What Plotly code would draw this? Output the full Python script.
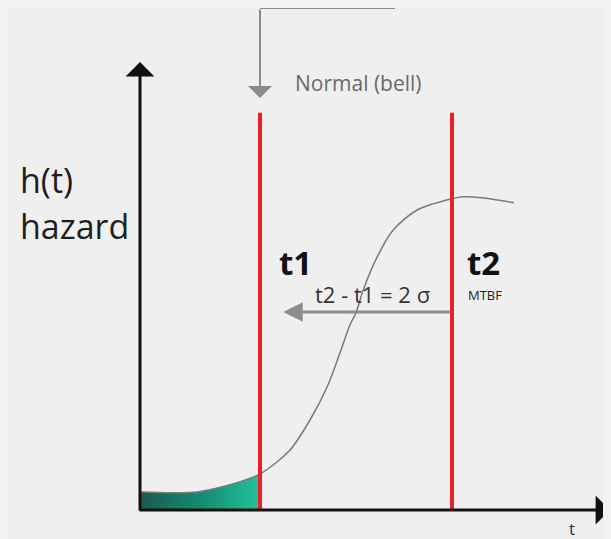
import plotly.graph_objects as go

# hazard curve (t, h)
t_vals = [0.0, 0.08, 0.83, 1.43, 2.25, 3.0, 3.75, 4.25, 4.68, 5.0, 5.25, 5.4, 5.58,
          5.93, 6.33, 6.93, 7.8, 8.08, 8.6, 9.35]
h_vals = [0.45, 0.45, 0.43, 0.45, 0.63, 0.9, 1.5, 2.25, 3.08, 3.93, 4.63, 4.93, 5.5,
          6.33, 7.0, 7.5, 7.78, 7.83, 7.8, 7.68]

t1 = 3.0
t2 = 7.8
marker_labels = ["t1", "t2"]

fig = go.Figure()

# green shaded area under the curve up to t1
fill_t = [t for t in t_vals if t <= t1]
fill_h = [h for t, h in zip(t_vals, h_vals) if t <= t1]
fig.add_trace(go.Scatter(
    x=fill_t, y=fill_h, mode="lines", line=dict(width=0),
    fill="tozeroy",
    fillgradient=dict(type="horizontal",
                      colorscale=[[0, "#1b5a50"], [0.5, "#138a72"], [1, "#22c29c"]]),
    hoverinfo="skip", showlegend=False,
))

# hazard curve
fig.add_trace(go.Scatter(
    x=t_vals, y=h_vals, mode="lines",
    line=dict(color="#7a7a7a", width=1.5, shape="spline", smoothing=0.8),
    showlegend=False,
))

shapes = []
# red vertical lines at t1 and t2
for tv in [t1, t2]:
    shapes.append(dict(type="line", xref="x", yref="y", x0=tv, x1=tv, y0=0, y1=9.93,
                       line=dict(color="#e82028", width=4)))
# top pointer horizontal segment
shapes.append(dict(type="line", xref="x", yref="y", x0=t1, x1=6.375, y0=12.55, y1=12.55,
                   line=dict(color="#8a8a8a", width=2)))

annotations = [
    # y axis arrow
    dict(x=0, y=11.2, ax=0, ay=-0.05, xref="x", yref="y", axref="x", ayref="y",
         text="", showarrow=True, arrowhead=1, arrowsize=1.6, arrowwidth=3, arrowcolor="#111"),
    # x axis arrow
    dict(x=11.75, y=0, ax=-0.05, ay=0, xref="x", yref="y", axref="x", ayref="y",
         text="", showarrow=True, arrowhead=1, arrowsize=1.6, arrowwidth=3, arrowcolor="#111"),
    # top pointer down to t1
    dict(x=t1, y=10.3, ax=t1, ay=12.55, xref="x", yref="y", axref="x", ayref="y",
         text="", showarrow=True, arrowhead=1, arrowsize=2, arrowwidth=2, arrowcolor="#8a8a8a"),
    # spread arrow from t2 back toward t1
    dict(x=3.58, y=4.95, ax=t2, ay=4.95, xref="x", yref="y", axref="x", ayref="y",
         text="", showarrow=True, arrowhead=2, arrowsize=1.3, arrowwidth=3, arrowcolor="#8c8c8c"),
    dict(x=3.83, y=10.68, xref="x", yref="y", text="Normal (bell)", showarrow=False,
         xanchor="left", font=dict(size=21, color="#6a6a6a", family="Open Sans")),
    dict(x=-3.05, y=8.25, xref="x", yref="y", text="h(t)", showarrow=False,
         xanchor="left", font=dict(size=34, color="#1e1e1e", family="Open Sans")),
    dict(x=-3.05, y=7.1, xref="x", yref="y", text="hazard", showarrow=False,
         xanchor="left", font=dict(size=34, color="#1e1e1e", family="Open Sans")),
    dict(x=t1 + 0.43, y=6.2, xref="x", yref="y", text="<b>" + marker_labels[0] + "</b>",
         showarrow=False, xanchor="left", font=dict(size=33, color="#111", family="Open Sans")),
    dict(x=t2 + 0.33, y=6.2, xref="x", yref="y", text="<b>" + marker_labels[1] + "</b>",
         showarrow=False, xanchor="left", font=dict(size=33, color="#111", family="Open Sans")),
    dict(x=t2 + 0.35, y=5.38, xref="x", yref="y", text="MTBF", showarrow=False,
         xanchor="left", font=dict(size=13, color="#222", family="Open Sans")),
    dict(x=5.8, y=5.4, xref="x", yref="y", text="t2 - t1 = 2 σ", showarrow=False,
         font=dict(size=22, color="#333", family="Open Sans")),
    dict(x=10.8, y=-0.45, xref="x", yref="y", text="t", showarrow=False,
         font=dict(size=17, color="#333", family="Open Sans")),
]

# the page body adds an 8px offset, so ranges are shifted to compensate
fig.update_layout(
    width=611, height=539,
    margin=dict(l=0, r=0, t=0, b=0),
    paper_bgcolor="#efefef", plot_bgcolor="#efefef",
    xaxis=dict(range=[-3.3, 11.975], visible=False, fixedrange=True),
    yaxis=dict(range=[-0.925, 12.55], visible=False, fixedrange=True),
    shapes=shapes, annotations=annotations,
    showlegend=False,
)

fig.write_html("out.html", post_script="document.body.style.background='#f3f3f3';")
